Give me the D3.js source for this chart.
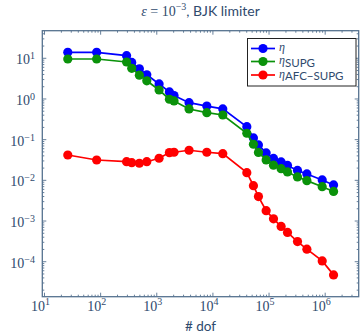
<!DOCTYPE html>
<html>
<head>
<meta charset="utf-8">
<script src="https://cdn.jsdelivr.net/npm/d3@7"></script>
<style>
  html, body { margin: 0; padding: 0; background: #fff; }
  svg { display: block; }
</style>
</head>
<body>
<svg id="chart" width="360" height="336"></svg>
<script>
// Degrees of freedom per refinement level
const dof = [26, 85, 290, 358, 490, 664, 1100, 1680, 2030, 3760, 7790, 15000,
             40200, 52700, 64700, 88800, 120000, 164000, 213000, 321000, 472000, 885000, 1410000];

// Error estimators
const eta = [14.0, 14.0, 11.6, 7.9, 5.5, 3.93, 2.34, 1.49, 1.21, 0.81, 0.67, 0.57,
             0.208, 0.110, 0.0741, 0.0471, 0.0345, 0.0283, 0.0232, 0.0175, 0.01435, 0.01023, 0.0077];
const etaSUPG = [9.6, 9.6, 8.1, 5.68, 3.85, 2.8, 1.66, 0.984, 0.894, 0.568, 0.460, 0.404,
                 0.1435, 0.0771, 0.0485, 0.0317, 0.0236, 0.0193, 0.0161, 0.0121, 0.00984, 0.00697, 0.00533];
const etaAFC = [0.0420, 0.0316, 0.0287, 0.0272, 0.0263, 0.0287, 0.0349, 0.0480, 0.0490, 0.0549, 0.0490, 0.0453,
                0.01545, 0.00741, 0.00398, 0.00180, 0.00113, 0.000736, 0.000524, 0.000312, 0.000203, 0.0001047, 0.0000474];

// Axis ticks (decade exponents)
const xTickExp = [1, 2, 3, 4, 5, 6];
const yTickExp = [1, 0, -1, -2, -3, -4];

const series = [
  { key: "eta", values: eta, color: "#0000ff", sub: null },
  { key: "supg", values: etaSUPG, color: "#0a920a", sub: "SUPG" },
  { key: "afc", values: etaAFC, color: "#ff0000", sub: "AFC\u2212SUPG" }
];

const textColor = "#2f4a6d";
const axisColor = "#56728f";
const serif = "'Liberation Serif', 'DejaVu Serif', serif";
const sans = "Lato, 'Noto Sans', sans-serif";

const svg = d3.select("#chart");
const L = 42.3, R = 358.7, T = 30.7, B = 296.7;

const x = d3.scaleLog().domain([Math.pow(10, 0.961), Math.pow(10, 6.597)]).range([L, R]);
const y = d3.scaleLog().domain([Math.pow(10, -4.860), Math.pow(10, 1.678)]).range([B, T]);

// Minor/major tick values inside the domain
function logTicks(scale) {
  const [d0, d1] = scale.domain();
  const out = [];
  for (let e = Math.floor(Math.log10(d0)); e <= Math.ceil(Math.log10(d1)); e++) {
    for (let m = 1; m <= 9; m++) {
      const v = m * Math.pow(10, e);
      if (v >= d0 && v <= d1) out.push({ v, major: m === 1 });
    }
  }
  return out;
}

const tickG = svg.append("g").attr("stroke", axisColor).attr("stroke-width", 0.9);
logTicks(x).forEach(t => {
  const px = x(t.v), len = t.major ? 4 : 2;
  tickG.append("line").attr("x1", px).attr("x2", px).attr("y1", B).attr("y2", B - len);
  tickG.append("line").attr("x1", px).attr("x2", px).attr("y1", T).attr("y2", T + len);
});
logTicks(y).forEach(t => {
  const py = y(t.v), len = t.major ? 4 : 2;
  tickG.append("line").attr("x1", L).attr("x2", L + len).attr("y1", py).attr("y2", py);
  tickG.append("line").attr("x1", R).attr("x2", R - len).attr("y1", py).attr("y2", py);
});

// Frame
svg.append("rect").attr("x", L).attr("y", T).attr("width", R - L).attr("height", B - T)
  .attr("fill", "none").attr("stroke", axisColor).attr("stroke-width", 1.3);

// X tick labels
xTickExp.forEach(e => {
  const t = svg.append("text").attr("x", x(Math.pow(10, e)) - 4).attr("y", 311)
    .attr("text-anchor", "middle").attr("fill", textColor)
    .style("font-family", serif).style("font-size", "14px");
  t.append("tspan").text("10");
  t.append("tspan").attr("dy", -6).style("font-size", "10px").text(String(e).replace("-", "\u2212"));
});

// Y tick labels
yTickExp.forEach(e => {
  const t = svg.append("text").attr("x", 35).attr("y", y(Math.pow(10, e)) + 6)
    .attr("text-anchor", "end").attr("fill", textColor)
    .style("font-family", serif).style("font-size", "14px");
  t.append("tspan").text("10");
  t.append("tspan").attr("dy", -5).style("font-size", "10px").text(String(e).replace("-", "\u2212"));
});

// Axis label
svg.append("text").attr("x", (L + R) / 2).attr("y", 331).attr("text-anchor", "middle")
  .attr("fill", textColor).style("font-family", sans).style("font-size", "13.5px").text("# dof");

// Title
const title = svg.append("text").attr("x", (L + R) / 2).attr("y", 16).attr("text-anchor", "middle")
  .attr("fill", textColor).style("font-size", "14px");
title.append("tspan").style("font-family", serif).style("font-style", "italic").text("\u03b5");
title.append("tspan").style("font-family", serif).text(" = 10");
title.append("tspan").style("font-family", serif).style("font-size", "10px").attr("dy", -6).text("\u22123");
title.append("tspan").style("font-family", sans).style("font-size", "14px").attr("dy", 6).text(", BJK limiter");

// Series
const line = d3.line().x(d => x(d[0])).y(d => y(d[1]));
series.forEach(s => {
  const pts = dof.map((d, i) => [d, s.values[i]]);
  const g = svg.append("g");
  g.append("path").datum(pts).attr("d", line).attr("fill", "none")
    .attr("stroke", s.color).attr("stroke-width", 1.7);
  g.selectAll("circle").data(pts).join("circle")
    .attr("cx", d => x(d[0])).attr("cy", d => y(d[1])).attr("r", 4.6)
    .attr("fill", s.color);
});

// Legend
const lg = svg.append("g");
lg.append("rect").attr("x", 247.5).attr("y", 38.5).attr("width", 108.5).attr("height", 47.5)
  .attr("fill", "#fff").attr("stroke", "#222").attr("stroke-width", 1);
const rowsY = [48.5, 61.5, 75];
series.forEach((s, i) => {
  const ry = rowsY[i];
  lg.append("line").attr("x1", 251).attr("x2", 275).attr("y1", ry).attr("y2", ry)
    .attr("stroke", s.color).attr("stroke-width", 1.7);
  lg.append("circle").attr("cx", 263).attr("cy", ry).attr("r", 4.6).attr("fill", s.color);
  const t = lg.append("text").attr("x", 279).attr("y", ry + 2.5).attr("fill", textColor);
  t.append("tspan").style("font-family", serif).style("font-style", "italic").style("font-size", "12px").text("\u03b7");
  if (s.sub) {
    t.append("tspan").style("font-family", sans).style("font-size", "11.5px").attr("dy", 2.5).text(s.sub);
  }
});
</script>
</body>
</html>
